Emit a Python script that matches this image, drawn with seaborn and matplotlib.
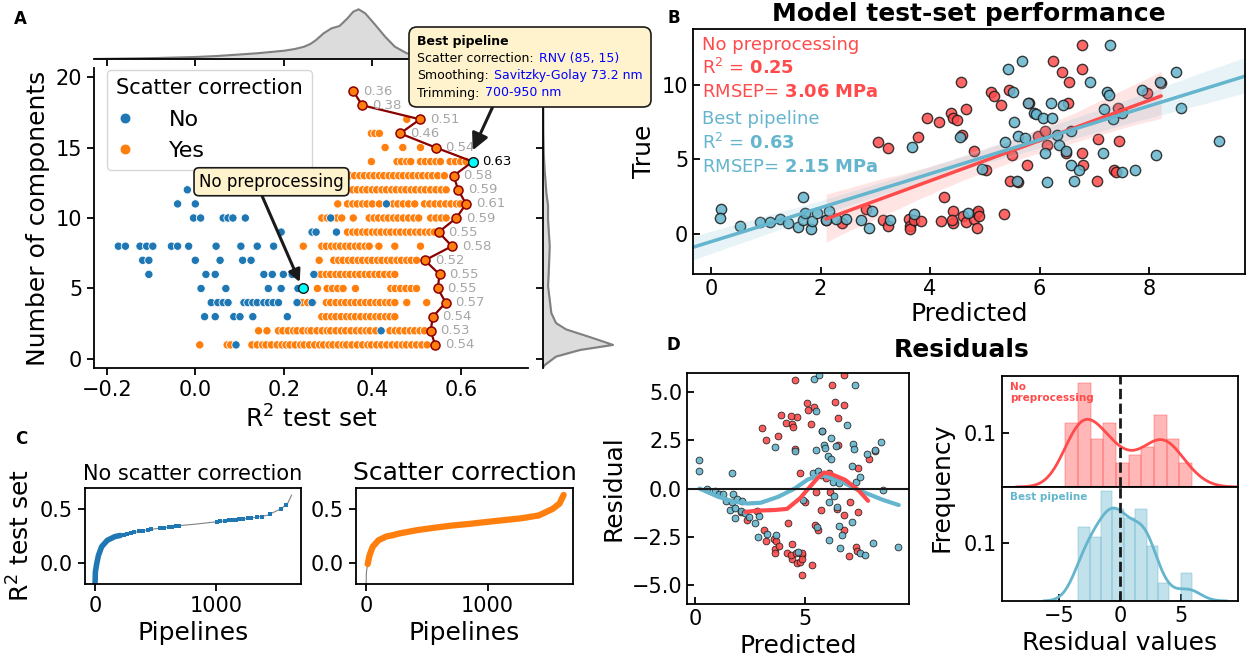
import numpy as np
import pandas as pd
import seaborn as sns
import matplotlib.pyplot as plt
from matplotlib.offsetbox import TextArea, HPacker, VPacker, AnnotationBbox

# ---------------- Panel A: R2 test set vs number of components ----------------
n_components = list(range(1, 20))

# pipelines without scatter correction (one list per number of components)
no_rows = [
    [0.092],
    [0.420],
    [0.021, 0.045, 0.087, 0.101, 0.130, 0.208],
    [0.036, 0.051, 0.063, 0.074, 0.110, 0.119, 0.130, 0.140, 0.155, 0.165, 0.176, 0.188, 0.230, 0.264],
    [0.013, 0.069, 0.165, 0.194, 0.232],
    [-0.105, 0.024, 0.045, 0.155, 0.174, 0.199, 0.219, 0.268],
    [-0.119, -0.105, 0.000, 0.056, 0.107, 0.126],
    [-0.174, -0.158, -0.125, -0.110, -0.096, -0.054, -0.040, -0.015, 0.047, 0.103, 0.140, 0.177],
    [0.194, 0.264, 0.273, 0.319],
    [-0.004, 0.012, 0.063, 0.074, 0.085, 0.113, 0.306],
    [-0.040, 0.000, 0.432],
    [-0.018],
    [], [], [], [], [], [], [],
]

# pipelines with scatter correction
yes_rows = [
    [0.010, 0.072, 0.080, 0.128, 0.140, 0.152, 0.160, 0.172, 0.185, 0.196, 0.205, 0.214, 0.226, 0.238,
     0.246, 0.258, 0.270, 0.281, 0.290, 0.302, 0.311, 0.323, 0.334, 0.342, 0.354, 0.366, 0.378, 0.390,
     0.398, 0.410, 0.421, 0.433, 0.445, 0.456, 0.468, 0.477, 0.489, 0.500, 0.512, 0.524],
    [0.143, 0.162, 0.188, 0.198, 0.210, 0.222, 0.230, 0.243, 0.255, 0.262, 0.275, 0.287, 0.298, 0.306,
     0.318, 0.330, 0.340, 0.352, 0.364, 0.375, 0.386, 0.395, 0.408, 0.440, 0.452, 0.462, 0.474, 0.486,
     0.496, 0.508, 0.518],
    [0.286, 0.296, 0.308, 0.318, 0.330, 0.342, 0.352, 0.362, 0.374, 0.386, 0.396, 0.408, 0.418, 0.430,
     0.440, 0.451],
    [0.241, 0.254, 0.266, 0.296, 0.306, 0.318, 0.330, 0.340, 0.352, 0.362, 0.374, 0.385, 0.396, 0.408,
     0.418, 0.430, 0.440, 0.451, 0.478, 0.523],
    [0.276, 0.298, 0.310, 0.322, 0.334, 0.362, 0.442, 0.452, 0.464, 0.476, 0.488, 0.500],
    [0.273, 0.284, 0.296, 0.306, 0.318, 0.328, 0.340, 0.350, 0.362, 0.372, 0.384, 0.394, 0.406, 0.416,
     0.428, 0.440, 0.451],
    [0.280, 0.313, 0.324, 0.334, 0.346, 0.356, 0.368, 0.378, 0.390, 0.400, 0.412, 0.422, 0.434, 0.444,
     0.456, 0.466, 0.478, 0.488, 0.500],
    [0.244, 0.286, 0.296, 0.308, 0.318, 0.328, 0.340, 0.350, 0.362, 0.372, 0.384, 0.393, 0.415, 0.451,
     0.509],
    [0.344, 0.356, 0.366, 0.378, 0.388, 0.400, 0.410, 0.420, 0.432, 0.442, 0.454, 0.464, 0.476, 0.486,
     0.498, 0.508, 0.520, 0.530, 0.540],
    [0.286, 0.298, 0.310, 0.320, 0.331, 0.357, 0.393, 0.404, 0.414, 0.426, 0.436, 0.448, 0.458, 0.470,
     0.482, 0.494, 0.505, 0.532, 0.544, 0.556, 0.567],
    [0.322, 0.344, 0.356, 0.366, 0.378, 0.388, 0.400, 0.416, 0.447, 0.458, 0.470, 0.482, 0.496, 0.518,
     0.530, 0.542, 0.554, 0.566, 0.578, 0.590, 0.599],
    [0.300, 0.312, 0.324, 0.336, 0.344, 0.356, 0.366, 0.378, 0.388, 0.400, 0.410, 0.422, 0.432, 0.444,
     0.454, 0.466, 0.476, 0.488, 0.498, 0.510, 0.520, 0.532, 0.544, 0.556, 0.567],
    [0.300, 0.314, 0.326, 0.338, 0.349, 0.360, 0.372, 0.382, 0.394, 0.404, 0.416, 0.426, 0.438, 0.448,
     0.460, 0.470, 0.482, 0.492, 0.504, 0.514, 0.526, 0.536, 0.548, 0.563],
    [0.398, 0.456, 0.466, 0.478, 0.487, 0.509, 0.520, 0.532, 0.544, 0.554, 0.576, 0.588, 0.600, 0.612],
    [0.429, 0.469, 0.509],
    [0.398, 0.406, 0.416],
    [0.478],
    [],
    [],
]

# best R2 for each number of components (the dark red path)
best_r2 = [0.542, 0.532, 0.537, 0.566, 0.548, 0.552, 0.519, 0.580, 0.550, 0.590,
           0.612, 0.594, 0.584, 0.627, 0.543, 0.463, 0.508, 0.377, 0.357]
no_prep_point = (0.244, 5)
best_point = (0.627, 14)

# marginal densities
marg_x_r2 = [-0.23, -0.15, -0.085, 0.0, 0.049, 0.10, 0.139, 0.17, 0.201, 0.225, 0.246, 0.26, 0.273,
             0.29, 0.308, 0.326, 0.344, 0.357, 0.369, 0.384, 0.407, 0.429, 0.451, 0.478, 0.52, 0.58,
             0.65, 0.75]
marg_x_dens = [0.0, 0.05, 0.10, 0.2, 0.3, 0.45, 0.57, 0.7, 0.83, 1.0, 1.23, 1.5, 1.9, 2.57, 3.07,
               3.3, 4.07, 4.73, 4.97, 4.57, 3.4, 2.23, 1.23, 0.57, 0.25, 0.1, 0.03, 0.0]
marg_y_comp = [-0.6, -0.43, 0.17, 0.64, 1.0, 1.55, 2.1, 2.55, 3.26, 4.2, 5.2, 6.1, 8.0, 9.9, 10.9,
               11.8, 12.8, 13.3, 14.5, 16.0, 20.6]
marg_y_dens = [0.0, 0.17, 1.3, 3.7, 7.0, 4.7, 2.3, 1.3, 0.83, 0.67, 0.5, 0.57, 0.67, 0.5, 0.5, 0.33,
               0.23, 0.17, 0.08, 0.03, 0.0]

best_info = [("Scatter correction:", "RNV (85, 15)"),
             ("Smoothing:", "Savitzky-Golay 73.2 nm"),
             ("Trimming:", "700-950 nm")]

# ---------------- Panel B: predicted vs true ----------------
np_pred = [6.78, 6.24, 6.78, 6.41, 4.56, 6.53, 5.12, 5.17, 5.44, 7.96, 5.29, 5.80, 6.52, 4.66, 4.38,
           3.94, 4.16, 4.42, 4.49, 7.43, 3.78, 4.58, 5.97, 6.10, 3.05, 3.23, 4.80, 6.14, 7.07, 7.45,
           5.50, 6.48, 6.78, 5.77, 6.80, 5.02, 7.35, 7.40, 5.46, 5.61, 7.05, 4.26, 5.34, 2.83, 2.39,
           3.14, 3.23, 3.61, 3.63, 3.63, 3.71, 3.83, 4.20, 4.42, 4.42, 4.40, 4.60, 4.65, 4.81, 4.86,
           4.88, 4.86, 4.89, 2.10, 8.22]
np_true = [12.68, 11.60, 11.10, 10.90, 10.20, 10.20, 9.55, 9.26, 9.67, 9.49, 8.66, 8.77, 8.77, 8.37,
           8.15, 7.77, 7.54, 7.77, 7.66, 8.48, 6.50, 6.65, 6.54, 6.88, 6.20, 5.76, 5.58, 5.98, 6.38,
           6.23, 5.31, 5.42, 5.42, 4.64, 4.64, 4.31, 4.31, 4.13, 3.57, 3.46, 3.53, 2.46, 1.36, 1.67,
           0.74, 0.96, 0.51, 1.00, 0.51, 0.29, 0.96, 0.85, 0.85, 1.52, 0.74, 0.96, 1.23, 0.78, 1.00,
           1.41, 1.52, 0.38, 1.23, 0.90, 10.15]
bp_pred = [0.19, 0.16, 0.53, 0.90, 1.08, 1.26, 1.40, 1.59, 1.67, 1.68, 1.71, 1.83, 1.84, 1.93, 2.10,
           2.16, 2.28, 2.46, 2.74, 2.88, 2.94, 3.27, 3.67, 3.71, 4.55, 4.69, 4.95, 5.37, 5.42, 5.52,
           5.53, 5.58, 5.61, 5.68, 5.74, 5.79, 5.90, 5.94, 6.06, 6.10, 6.13, 6.21, 6.23, 6.31, 6.36,
           6.43, 6.48, 6.57, 6.58, 6.62, 6.72, 6.92, 7.15, 7.18, 7.23, 7.27, 7.29, 7.34, 7.51, 7.51,
           7.74, 7.87, 8.13, 8.20, 8.49, 8.58, 9.27]
bp_true = [1.67, 1.07, 0.51, 0.78, 0.78, 1.00, 0.74, 0.47, 0.96, 2.48, 1.41, 0.29, 0.85, 1.41, 0.92,
           1.52, 1.00, 1.00, 0.96, 0.38, 1.52, 0.92, 5.80, 1.30, 6.50, 1.41, 4.35, 6.20, 11.10, 9.55,
           7.54, 3.57, 6.54, 11.60, 6.43, 8.77, 8.15, 8.06, 7.77, 5.42, 3.46, 8.82, 7.77, 6.65, 5.98,
           8.66, 5.54, 6.88, 4.64, 3.53, 4.31, 10.20, 5.42, 8.37, 9.55, 9.33, 12.68, 7.70, 8.10, 4.15,
           4.31, 9.67, 5.31, 10.20, 10.90, 8.48, 6.23]
np_stats = ("0.25", "3.06")
bp_stats = ("0.63", "2.15")

# ---------------- Panel C: sorted R2 of all pipelines ----------------
curve_rank = [0, 3, 13, 28, 54, 101, 165, 209, 280, 423, 566, 708, 850, 993, 1135, 1278, 1420,
              1534, 1591, 1625]
curve_r2 = [-0.19, -0.08, -0.01, 0.07, 0.15, 0.21, 0.245, 0.255, 0.275, 0.305, 0.327, 0.347, 0.362,
            0.38, 0.397, 0.414, 0.44, 0.50, 0.55, 0.63]
no_sc_rank = [238, 266, 295, 323, 360, 395, 437, 466, 537, 566, 608, 637, 665, 694, 1007, 1036,
              1078, 1107, 1135, 1164, 1192, 1221, 1264, 1292, 1335, 1377, 1449, 1534, 1577]
no_sc_r2 = [0.263, 0.270, 0.278, 0.285, 0.292, 0.298, 0.307, 0.312, 0.322, 0.327, 0.333, 0.337,
            0.341, 0.345, 0.382, 0.385, 0.390, 0.394, 0.397, 0.400, 0.403, 0.407, 0.412, 0.416,
            0.423, 0.430, 0.450, 0.500, 0.535]

# ---------------- Panel D: lowess of residuals ----------------
low_bp_x = [0.2, 1.05, 1.8, 2.4, 3.0, 3.8, 4.55, 5.15, 5.6, 5.9, 6.7, 7.45, 8.6, 9.3]
low_bp_y = [0.0, -0.43, -0.69, -0.78, -0.74, -0.43, 0.0, 0.47, 0.65, 0.66, 0.35, -0.08, -0.6, -0.86]
low_np_x = [2.3, 2.8, 3.6, 4.2, 4.8, 5.1, 5.6, 5.9, 6.2, 6.85, 7.45, 7.9]
low_np_y = [-1.22, -1.15, -1.12, -1.06, -0.5, -0.1, 0.55, 0.83, 0.76, 0.45, -0.08, -0.64]

BLUE = '#1f77b4'
ORANGE = '#ff7f0e'
RED = '#ff4b4b'
CYAN = '#64b5cd'
BOXC = '#fff3cd'

sns.set_theme(style='ticks')
plt.rcParams['font.family'] = ['DejaVu Sans']
plt.rcParams.update({
    'mathtext.fontset': 'dejavusans',
    'text.color': 'black',
    'axes.labelcolor': 'black',
    'axes.edgecolor': 'black',
    'xtick.color': 'black',
    'ytick.color': 'black',
    'axes.labelsize': 18,
    'xtick.labelsize': 15,
    'ytick.labelsize': 15,
    'axes.linewidth': 1.3,
    'xtick.major.width': 1.3,
    'ytick.major.width': 1.3,
    'xtick.major.size': 5,
    'ytick.major.size': 5,
})

W, H = 1247, 661
fig = plt.figure(figsize=(W / 100, H / 100), dpi=100)


def px_axes(x0, y0, x1, y1, **kw):
    return fig.add_axes([x0 / W, 1 - y1 / H, (x1 - x0) / W, (y1 - y0) / H], **kw)


# ---------------- A ----------------
ax_a = px_axes(94, 68, 528, 368)
ax_top = px_axes(94, 4, 528, 59, sharex=ax_a)
ax_right = px_axes(543, 68, 623, 368, sharey=ax_a)
ax_a.set_zorder(3)

r2_vals, comp_vals, sc_vals = [], [], []
for label, rows in (('Yes', yes_rows), ('No', no_rows)):
    for comp, vals in zip(n_components, rows):
        r2_vals += vals
        comp_vals += [comp] * len(vals)
        sc_vals += [label] * len(vals)
df_a = pd.DataFrame({'R2': r2_vals, 'n_comp': comp_vals, 'Scatter correction': sc_vals})

sns.scatterplot(data=df_a, x='R2', y='n_comp', hue='Scatter correction', hue_order=['No', 'Yes'],
                palette=[BLUE, ORANGE], s=36, edgecolor='white', linewidth=0.6, ax=ax_a)
ax_a.plot(best_r2, n_components, color='darkred', lw=1.6, marker='o', markersize=6.5,
          markerfacecolor=ORANGE, markeredgecolor='darkred', markeredgewidth=1.1, zorder=4)
for r2, comp in zip(best_r2, n_components):
    col = 'black' if comp == best_point[1] else '#a6a6a6'
    ax_a.text(r2 + 0.022, comp, f'{r2:.2f}', fontsize=9.5, color=col, va='center', zorder=6)
ax_a.scatter(*best_point, s=48, color='cyan', edgecolor='k', linewidth=1, zorder=5)
ax_a.scatter(*no_prep_point, s=48, color='cyan', edgecolor='k', linewidth=1, zorder=5)

ax_a.set_xlim(-0.229, 0.752)
ax_a.set_ylim(-0.64, 20.64)
ax_a.set_xticks([-0.2, 0.0, 0.2, 0.4, 0.6])
ax_a.set_yticks([0, 5, 10, 15, 20])
ax_a.set_xlabel('R$^2$ test set')
ax_a.set_ylabel('Number of components')
sns.despine(ax=ax_a)
sns.move_legend(ax_a, 'upper left', bbox_to_anchor=(0.03, 0.995), borderaxespad=0,
                title='Scatter correction', fontsize=16, title_fontsize=15, alignment='left',
                handletextpad=1.6, handlelength=0.8, markerscale=1.3)

ax_a.annotate('No preprocessing', xy=(0.236, 5.45), xytext=(0.172, 12.57), ha='center', va='center',
              fontsize=12, zorder=10,
              bbox=dict(boxstyle='round,pad=0.3', fc=BOXC, ec='k', lw=1.2),
              arrowprops=dict(arrowstyle='-|>', color='k', lw=2.2, mutation_scale=18,
                              shrinkA=0, shrinkB=0, relpos=(0.42, 0.0)))

lines = [TextArea('Best pipeline', textprops=dict(fontsize=9, fontweight='bold'))]
for key, val in best_info:
    lines.append(HPacker(children=[TextArea(key, textprops=dict(fontsize=9)),
                                   TextArea(val, textprops=dict(fontsize=9, color='blue'))],
                         align='baseline', pad=0, sep=4))
info_box = VPacker(children=lines, align='left', pad=0, sep=3)
ab = AnnotationBbox(info_box, xy=(0.627, 14.8), xycoords='data',
                    xybox=(417, H - 35), boxcoords='figure pixels', box_alignment=(0, 1),
                    pad=0.5, bboxprops=dict(boxstyle='round,pad=0.5', fc=BOXC, ec='k', lw=1.2),
                    arrowprops=dict(arrowstyle='-|>', color='k', lw=2.2, mutation_scale=18,
                                    relpos=(0.35, 0.0), shrinkA=0, shrinkB=0))
ab.set_zorder(10)
ab.set_clip_on(False)
ax_a.add_artist(ab)

ax_top.fill_between(marg_x_r2, marg_x_dens, color='#dcdcdc')
ax_top.plot(marg_x_r2, marg_x_dens, color='grey', lw=1.5)
ax_top.set_ylim(0, 5.5)
sns.despine(ax=ax_top, left=True)
ax_top.tick_params(left=False, labelleft=False, labelbottom=False)

ax_right.fill_betweenx(marg_y_comp, marg_y_dens, color='#dcdcdc')
ax_right.plot(marg_y_dens, marg_y_comp, color='grey', lw=1.5)
ax_right.set_xlim(0, 8)
sns.despine(ax=ax_right, bottom=True)
ax_right.tick_params(bottom=False, labelbottom=False, labelleft=False)

# ---------------- B ----------------
ax_b = px_axes(693, 29, 1245, 274)
ax_b.set_xlim(-0.33, 9.75)
ax_b.set_ylim(-2.7, 13.76)
sc_kw = dict(s=55, edgecolor='k', linewidths=1, alpha=0.85)
sns.regplot(x=np_pred, y=np_true, color=RED, truncate=True, seed=0, scatter_kws=sc_kw,
            line_kws=dict(lw=2.5), ax=ax_b)
sns.regplot(x=bp_pred, y=bp_true, color=CYAN, truncate=False, seed=0, scatter_kws=sc_kw,
            line_kws=dict(lw=2.5), ax=ax_b)
ax_b.set_xlim(-0.33, 9.75)
ax_b.set_ylim(-2.7, 13.76)
ax_b.set_xticks([0, 2, 4, 6, 8])
ax_b.set_yticks([0, 5, 10])
ax_b.tick_params(direction='in', length=5)
ax_b.set_xlabel('Predicted', labelpad=2)
ax_b.set_ylabel('True')
ax_b.set_title('Model test-set performance', fontsize=18, fontweight='bold', pad=6)
b_text = [('No preprocessing', RED),
          (r'R$^2$ = $\mathbf{%s}$' % np_stats[0], RED),
          (r'RMSEP= $\mathbf{%s\ MPa}$' % np_stats[1], RED),
          ('Best pipeline', CYAN),
          (r'R$^2$ = $\mathbf{%s}$' % bp_stats[0], CYAN),
          (r'RMSEP= $\mathbf{%s\ MPa}$' % bp_stats[1], CYAN)]
for (txt, col), yy in zip(b_text, [0.935, 0.841, 0.743, 0.633, 0.535, 0.437]):
    ax_b.text(0.016, yy, txt, color=col, fontsize=13, va='center', transform=ax_b.transAxes)

# ---------------- C ----------------
ax_c1 = px_axes(85, 488, 301, 584)
ax_c2 = px_axes(356, 488, 573, 584)
sns.lineplot(x=curve_rank, y=curve_r2, color='grey', lw=0.8, ax=ax_c1)
sns.lineplot(x=curve_rank[:8], y=curve_r2[:8], color=BLUE, lw=4, ax=ax_c1)
ax_c1.scatter(no_sc_rank, no_sc_r2, marker='s', s=10, color=BLUE, linewidths=0, zorder=3)
sns.lineplot(x=curve_rank, y=curve_r2, color='grey', lw=0.8, ax=ax_c2)
sns.lineplot(x=curve_rank[2:], y=curve_r2[2:], color=ORANGE, lw=4.5, ax=ax_c2)
for ax, title, fs in ((ax_c1, 'No scatter correction', 15), (ax_c2, 'Scatter correction', 18)):
    ax.set_xlim(-83, 1702)
    ax.set_ylim(-0.194, 0.694)
    ax.set_xticks([0, 1000])
    ax.set_yticks([0.0, 0.5])
    ax.set_xlabel('Pipelines')
    ax.set_title(title, fontsize=fs)
ax_c1.set_ylabel('R$^2$ test set')

# ---------------- D ----------------
np_resid = np.array(np_true) - np.array(np_pred)
bp_resid = np.array(bp_true) - np.array(bp_pred)

ax_d1 = px_axes(687, 373, 909, 604)
d_kw = dict(s=24, edgecolor='k', linewidth=0.6, alpha=0.9)
sns.scatterplot(x=np_pred, y=np_resid, color=RED, ax=ax_d1, **d_kw)
sns.scatterplot(x=bp_pred, y=bp_resid, color=CYAN, ax=ax_d1, **d_kw)
sns.lineplot(x=low_bp_x, y=low_bp_y, color=CYAN, lw=3, ax=ax_d1)
sns.lineplot(x=low_np_x, y=low_np_y, color=RED, lw=3, ax=ax_d1)
ax_d1.axhline(0, color='k', lw=1.5)
ax_d1.set_xlim(-0.37, 9.77)
ax_d1.set_ylim(-6, 6)
ax_d1.set_xticks([0, 5])
ax_d1.set_yticks([-5, -2.5, 0, 2.5, 5])
ax_d1.tick_params(direction='in', length=5)
ax_d1.set_xlabel('Predicted')
ax_d1.set_ylabel('Residual')

ax_d2t = px_axes(1002, 376, 1238, 487)
ax_d2b = px_axes(1002, 487, 1238, 601, sharex=ax_d2t)
for ax, res, col, lim in ((ax_d2t, np_resid, RED, 0.205), (ax_d2b, bp_resid, CYAN, 0.198)):
    sns.histplot(x=res, stat='density', bins=10, kde=True, color=col, alpha=0.4, edgecolor=col,
                 linewidth=0.3, kde_kws=dict(cut=3), line_kws=dict(lw=2), ax=ax)
    ax.axvline(0, color='k', ls='--', lw=2)
    ax.set_ylim(0, lim)
    ax.set_yticks([0.1])
    ax.set_ylabel('')
    ax.tick_params(direction='in', length=5)
ax_d2t.set_xlim(-9.67, 9.67)
ax_d2b.set_xticks([-5, 0, 5])
ax_d2t.tick_params(bottom=False, labelbottom=False)
ax_d2b.set_xlabel('Residual values')
ax_d2t.text(0.034, 0.95, 'No\npreprocessing', color=RED, fontsize=7.5, fontweight='bold',
            va='top', transform=ax_d2t.transAxes)
ax_d2b.text(0.034, 0.915, 'Best pipeline', color=CYAN, fontsize=7.5, fontweight='bold',
            va='center', transform=ax_d2b.transAxes)
fig.text(941 / W, 1 - 487 / H, 'Frequency', rotation=90, fontsize=18, ha='center', va='center')
fig.text(962 / W, 1 - 350 / H, 'Residuals', fontsize=18, fontweight='bold', ha='center', va='center')

# panel letters
for letter, (x, y) in zip('ABCD', [(20, 19), (674, 18), (21, 439), (673, 345)]):
    fig.text(x / W, 1 - y / H, letter, fontsize=12, fontweight='bold', ha='center', va='center')

fig.savefig('out.png', dpi=100)
